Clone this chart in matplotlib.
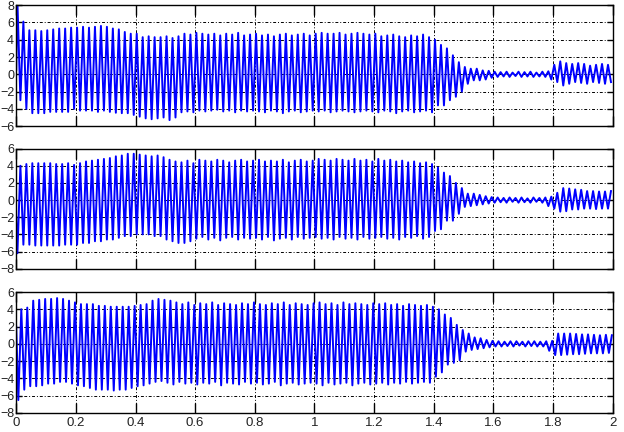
import numpy as np
import matplotlib
matplotlib.use('Agg')
import matplotlib.pyplot as plt

plt.rcParams['font.family'] = ['Liberation Sans', 'DejaVu Sans']

# one peak and one trough per 50 Hz cycle
period = 0.02
xticks = [0, 0.2, 0.4, 0.6, 0.8, 1, 1.2, 1.4, 1.6, 1.8, 2]
xlabels = ['0', '0.2', '0.4', '0.6', '0.8', '1', '1.2', '1.4', '1.6', '1.8', '2']

# phase a
start_a = 0.5
peaks_a = [8.4, 6.1, 5.1, 5.1, 5.0, 5.1, 5.2, 5.3, 5.3, 5.4,
           5.4, 5.5, 5.4, 5.5, 5.6, 5.5, 5.3, 5.2, 4.9, 4.7,
           4.7, 4.3, 4.4, 4.3, 4.3, 4.4, 4.2, 4.4, 4.7, 4.6,
           4.8, 4.7, 4.6, 4.7, 4.5, 4.7, 4.6, 4.8, 4.5, 4.6,
           4.7, 4.5, 4.6, 4.4, 4.6, 4.7, 4.5, 4.6, 4.7, 4.5,
           4.7, 4.8, 4.7, 4.7, 4.8, 4.6, 4.7, 4.8, 4.7, 4.6,
           4.7, 4.4, 4.5, 4.6, 4.4, 4.3, 4.5, 4.4, 4.6, 4.3,
           4.0, 3.4, 3.0, 2.2, 1.4, 0.85, 0.65, 0.65, 0.45, 0.4,
           0.3, 0.25, 0.3, 0.2, 0.3, 0.25, 0.3, 0.2, 0.3, 0.35,
           1.1, 1.5, 1.3, 1.2, 1.3, 1.2, 1.0, 1.1, 1.2, 1.1]
troughs_a = [-3.0, -4.0, -4.5, -4.5, -4.5, -4.35, -4.35, -4.35, -4.35, -4.0,
             -4.2, -4.2, -4.2, -4.35, -4.2, -4.35, -4.45, -4.5, -4.5, -4.7,
             -4.9, -5.1, -5.2, -5.1, -5.0, -5.3, -5.0, -4.4, -4.3, -4.4,
             -4.2, -4.3, -4.2, -4.1, -4.3, -4.2, -4.4, -4.2, -4.3, -4.2,
             -4.3, -4.4, -4.2, -4.3, -4.5, -4.3, -4.2, -4.4, -4.3, -4.2,
             -4.3, -4.2, -4.4, -4.3, -4.2, -4.3, -4.4, -4.3, -4.2, -4.3,
             -4.4, -4.2, -4.3, -4.5, -4.3, -4.2, -4.4, -4.3, -4.2, -4.4,
             -3.6, -3.6, -3.0, -2.6, -2.0, -1.1, -0.7, -0.7, -0.6, -0.4,
             -0.3, -0.25, -0.3, -0.2, -0.3, -0.25, -0.3, -0.25, -0.3, -0.6,
             -0.9, -1.3, -1.1, -0.9, -1.0, -1.1, -0.9, -1.0, -1.1, -0.9]

# phase b
start_b = -2.0
peaks_b = [4.0, 4.2, 4.3, 4.3, 4.3, 4.3, 4.2, 4.2, 4.3, 4.1,
           4.3, 4.5, 4.6, 4.7, 4.8, 4.9, 5.1, 5.2, 5.4, 5.4,
           5.3, 5.2, 5.1, 5.2, 5.0, 4.7, 4.5, 4.4, 4.6, 4.3,
           4.7, 4.6, 4.5, 4.7, 4.6, 4.4, 4.6, 4.7, 4.5, 4.6,
           4.7, 4.5, 4.6, 4.5, 4.7, 4.4, 4.6, 4.7, 4.5, 4.6,
           4.8, 4.7, 4.6, 4.8, 4.7, 4.6, 4.8, 4.6, 4.7, 4.5,
           4.8, 4.6, 4.7, 4.5, 4.6, 4.4, 4.5, 4.3, 4.4, 4.2,
           3.8, 3.2, 2.8, 2.0, 1.4, 0.75, 0.75, 0.6, 0.45, 0.35,
           0.3, 0.25, 0.3, 0.25, 0.3, 0.2, 0.3, 0.25, 0.3, 0.4,
           0.85, 1.4, 1.35, 1.25, 1.2, 1.05, 1.05, 1.0, 1.0, 1.05]
troughs_b = [-6.2, -5.2, -5.2, -5.3, -5.3, -5.3, -5.3, -5.3, -5.2, -5.2,
             -5.2, -5.0, -5.0, -4.8, -4.8, -4.6, -4.6, -4.4, -4.2, -4.2,
             -4.0, -4.0, -4.0, -4.2, -4.2, -4.6, -4.8, -5.0, -5.0, -4.8,
             -4.5, -4.3, -4.6, -4.4, -4.7, -4.4, -4.3, -4.6, -4.4, -4.5,
             -4.4, -4.6, -4.3, -4.7, -4.5, -4.4, -4.6, -4.3, -4.5, -4.4,
             -4.3, -4.5, -4.4, -4.6, -4.3, -4.5, -4.4, -4.6, -4.3, -4.5,
             -4.4, -4.3, -4.5, -4.4, -4.6, -4.3, -4.4, -4.2, -4.5, -4.3,
             -3.6, -3.4, -2.4, -2.4, -1.6, -0.8, -0.7, -0.6, -0.5, -0.4,
             -0.3, -0.25, -0.3, -0.2, -0.3, -0.25, -0.3, -0.2, -0.3, -0.7,
             -1.0, -1.35, -1.3, -1.1, -1.1, -1.0, -1.0, -1.05, -1.0, -1.0]

# phase c
start_c = 2.0
peaks_c = [4.0, 4.2, 5.0, 5.1, 5.2, 5.2, 5.3, 5.2, 5.0, 4.8,
           4.6, 4.6, 4.6, 4.4, 4.4, 4.3, 4.3, 4.3, 4.3, 4.4,
           4.5, 4.6, 5.0, 5.2, 5.1, 5.0, 4.8, 4.6, 4.8, 4.5,
           4.7, 4.6, 4.8, 4.5, 4.7, 4.6, 4.5, 4.7, 4.6, 4.8,
           4.6, 4.5, 4.7, 4.6, 4.8, 4.5, 4.7, 4.6, 4.5, 4.7,
           4.8, 4.6, 4.7, 4.5, 4.8, 4.6, 4.7, 4.6, 4.5, 4.7,
           4.6, 4.7, 4.5, 4.6, 4.4, 4.6, 4.5, 4.4, 4.5, 4.3,
           4.0, 3.4, 3.0, 2.2, 1.6, 1.2, 0.75, 0.65, 0.45, 0.35,
           0.3, 0.25, 0.3, 0.3, 0.25, 0.3, 0.3, 0.25, 0.3, 0.35,
           1.2, 1.2, 1.2, 1.15, 1.1, 1.1, 1.05, 1.0, 1.05, 1.0]
troughs_c = [-6.5, -5.3, -4.9, -4.9, -4.8, -4.6, -4.6, -4.4, -4.4, -4.6,
             -4.8, -4.9, -5.1, -5.3, -5.3, -5.3, -5.4, -5.3, -5.3, -5.1,
             -4.9, -4.8, -4.6, -4.4, -4.3, -4.5, -4.7, -4.4, -4.6, -4.5,
             -4.7, -4.5, -4.6, -4.4, -4.8, -4.5, -4.6, -4.7, -4.4, -4.6,
             -4.5, -4.7, -4.6, -4.4, -4.8, -4.6, -4.5, -4.7, -4.6, -4.5,
             -4.6, -4.8, -4.5, -4.7, -4.6, -4.5, -4.8, -4.6, -4.5, -4.7,
             -4.6, -4.5, -4.7, -4.5, -4.6, -4.4, -4.6, -4.5, -4.4, -4.5,
             -3.8, -3.3, -2.4, -2.2, -1.9, -0.9, -0.7, -0.6, -0.5, -0.4,
             -0.3, -0.3, -0.25, -0.3, -0.2, -0.3, -0.25, -0.3, -0.3, -0.8,
             -1.3, -1.3, -1.25, -1.2, -1.2, -1.15, -1.1, -1.1, -1.1, -1.05]


def trace(start, peaks, troughs, t_peak, t_trough):
    # join the start value and the per-cycle extremes in time order
    k = np.arange(len(peaks))
    t = np.concatenate([[0.0], t_peak + k * period, t_trough + k * period])
    y = np.concatenate([[start], peaks, troughs])
    order = np.argsort(t)
    return t[order], y[order]


traces = [
    (trace(start_a, peaks_a, troughs_a, 0.004, 0.014), (-6, 8)),
    (trace(start_b, peaks_b, troughs_b, 0.014, 0.004), (-8, 6)),
    (trace(start_c, peaks_c, troughs_c, 0.017, 0.007), (-8, 6)),
]

fig = plt.figure(figsize=(6.24, 4.32), dpi=100)
boxes = [[0.026, 0.708, 0.956, 0.280],
         [0.026, 0.378, 0.956, 0.278],
         [0.026, 0.044, 0.956, 0.280]]

for i, ((t, y), ylim) in enumerate(traces):
    ax = fig.add_axes(boxes[i])
    ax.plot(t, y, color='#0000ff', lw=1.4)
    ax.set_xlim(0, 2)
    ax.set_ylim(*ylim)
    ax.set_yticks(np.arange(ylim[0], ylim[1] + 1, 2))
    ax.set_xticks(xticks)
    if i == 2:
        ax.set_xticklabels(xlabels)
    else:
        ax.set_xticklabels([])
    ax.grid(True, color='black', lw=0.7, linestyle=(0, (3, 2, 1, 2)))
    ax.tick_params(axis='both', direction='in', top=True, right=True,
                   width=1.0, labelsize=9, colors='black', pad=1.5)
    ax.tick_params(axis='x', length=7, labelsize=9.5, pad=3)
    ax.tick_params(axis='y', length=4)
    for lbl in ax.get_xticklabels() + ax.get_yticklabels():
        lbl.set_color('#222222')
    for s in ax.spines.values():
        s.set_linewidth(1.0)

fig.savefig('out.png', dpi=100)
